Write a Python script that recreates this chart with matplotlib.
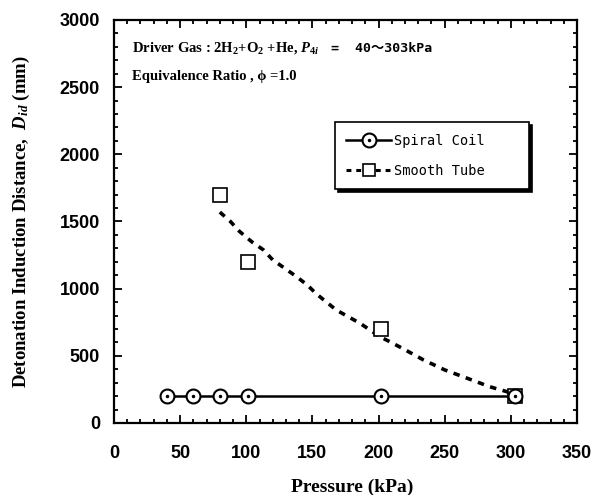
import matplotlib
matplotlib.use("Agg")
import matplotlib.pyplot as plt
from matplotlib.ticker import MultipleLocator
from matplotlib.lines import Line2D

# Spiral coil data
coil_p = [40, 60, 80, 101, 202, 303]
coil_d = [200, 200, 200, 200, 200, 200]

# Smooth tube data
tube_p = [80, 101, 202, 303]
tube_d = [1700, 1200, 700, 200]

# dashed trend curve for smooth tube
fit_p = [80, 88, 95, 104, 113, 120, 129, 138, 146, 153, 168, 186, 201, 218, 234, 250, 267, 284, 297, 303]
fit_d = [1570, 1500, 1425, 1350, 1288, 1214, 1152, 1089, 1028, 961, 841, 742, 643, 556, 469, 395, 333, 270, 233, 200]

plt.rcParams["mathtext.fontset"] = "custom"
plt.rcParams["mathtext.rm"] = "Liberation Serif:bold"
plt.rcParams["mathtext.bf"] = "Liberation Serif:bold"
plt.rcParams["mathtext.it"] = "Liberation Serif:bold:italic"

serif = ["Liberation Serif", "DejaVu Serif"]
sans = ["Liberation Sans", "DejaVu Sans"]

fig = plt.figure(figsize=(5.91, 4.95), dpi=100)
ax = fig.add_axes([0.1929, 0.1455, 0.7834, 0.8141])

ax.plot(fit_p, fit_d, color="black", lw=2.6, ls=(0, (1.8, 1.8)), zorder=2)
sq, = ax.plot(tube_p, tube_d, ls="none", marker="s", ms=10.5, mfc="white",
              mec="black", mew=1.2, zorder=3)
ln, = ax.plot(coil_p, coil_d, color="black", lw=1.8, marker="o", ms=10,
              mfc="white", mec="black", mew=1.5, zorder=4)
dots, = ax.plot(coil_p, coil_d, ls="none", marker="o", ms=1.5, color="black", zorder=5)

# legend
tube_h = Line2D([], [], color="black", lw=2.2, ls=(0, (1.6, 1.6)), marker="s",
                ms=9, mfc="white", mec="black", mew=1.2)
leg = ax.legend([(ln, dots), tube_h], ["Spiral Coil    ", "Smooth Tube    "],
                loc="upper left", bbox_to_anchor=(0.477, 0.746), borderaxespad=0,
                frameon=True, fancybox=False,
                shadow={"color": "black", "alpha": 1, "ox": 2, "oy": -2},
                edgecolor="black", handlelength=3.3, handletextpad=0.2,
                borderpad=0.85, labelspacing=1.15,
                prop={"family": "DejaVu Sans Mono", "size": 9.8})
leg.get_frame().set_linewidth(1.2)

ax.set_xlim(0, 350)
ax.set_ylim(0, 3000)
ax.xaxis.set_major_locator(MultipleLocator(50))
ax.xaxis.set_minor_locator(MultipleLocator(10))
ax.yaxis.set_major_locator(MultipleLocator(500))
ax.yaxis.set_minor_locator(MultipleLocator(100))
ax.tick_params(which="both", direction="in", top=True, right=True, width=1.3)
ax.tick_params(which="major", length=6)
ax.tick_params(which="minor", length=3)
ax.tick_params(axis="x", pad=16)
ax.tick_params(axis="y", pad=10)
for s in ax.spines.values():
    s.set_linewidth(1.6)
for lab in ax.get_xticklabels() + ax.get_yticklabels():
    lab.set_family(sans)
    lab.set_fontweight("bold")
    lab.set_fontsize(13)

ax.set_xlabel("Pressure (kPa)", family=serif, fontweight="bold", fontsize=14)
ax.xaxis.set_label_coords(0.514, -0.139)
ax.set_ylabel(r"Detonation Induction Distance,  $D_{id}$ (mm)",
              family=serif, fontweight="bold", fontsize=13.5)
ax.yaxis.set_label_coords(-0.177, 0.5)

t1 = ax.text(0.039, 0.93, r"Driver Gas : 2H$_2$+O$_2$ +He, $P_{4i}$",
             transform=ax.transAxes, family=serif, fontweight="bold",
             fontsize=10.5, va="center")
ax.text(0.039, 0.86, "Equivalence Ratio , ϕ =1.0",
        transform=ax.transAxes, family=serif, fontweight="bold",
        fontsize=10.5, va="center")

# place the pressure range right after the first line
fig.canvas.draw()
bb = t1.get_window_extent().transformed(ax.transAxes.inverted())
ax.text(bb.x1 + 0.025, 0.93, "=  40～303kPa", transform=ax.transAxes,
        family=["DejaVu Sans Mono", "Noto Sans CJK JP"], fontweight="bold",
        fontsize=9.5, va="center")

fig.savefig("out.png", dpi=100)
